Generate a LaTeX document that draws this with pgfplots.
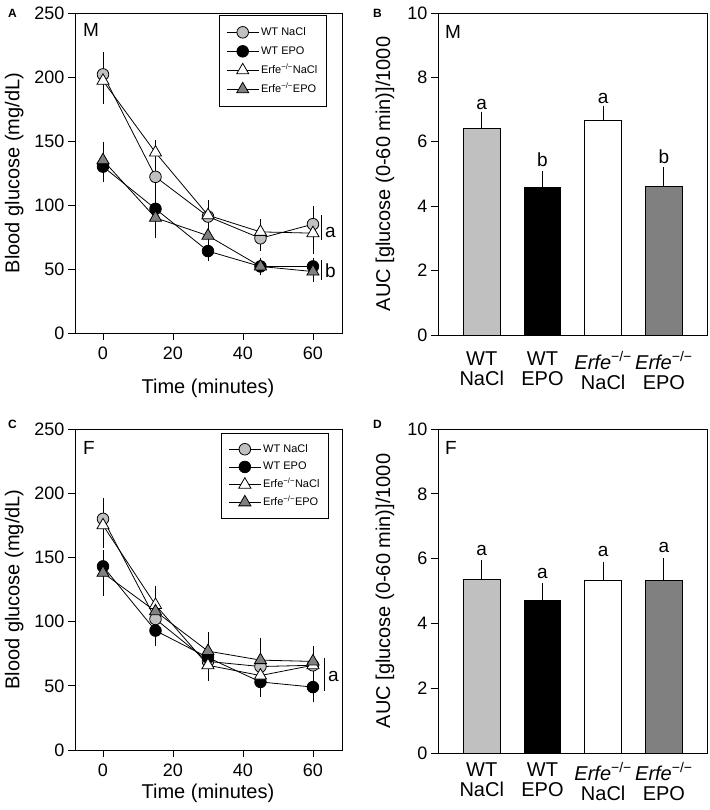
\documentclass[border=0pt]{standalone}
\usepackage{pgfplots}
\pgfplotsset{compat=1.18}
\usepackage{fontspec}
\setmainfont{Liberation Sans}
\definecolor{lg}{HTML}{C0C0C0}
\definecolor{dg}{HTML}{808080}
\pgfplotsset{
  common/.style={scale only axis, tick align=outside, major tick length=7pt,
    xtick pos=bottom, ytick pos=left,
    axis line style={line width=0.8pt}, tick style={black, line width=0.8pt},
    /pgf/number format/assume math mode=true,
    tick label style={font=\fontsize{18}{18}\selectfont},
    label style={font=\fontsize{20}{20}\selectfont},
  },
  lineax/.style={common, width=267pt, xmin=-8, xmax=68.3, ymin=0, ymax=250,
    xtick={0,20,40,60}, ytick={0,50,...,250},
    xticklabel style={yshift=-3pt},
    xlabel={Time (minutes)}, ylabel={Blood glucose (mg/dL)},
    y label style={at={(axis description cs:-0.228,0.5)}, anchor=center},
    legend cell align=left,
    legend image code/.code={\draw[##1, mark repeat=2, mark phase=2] plot coordinates {(0pt,0pt) (16pt,0pt) (32pt,0pt)};},
    legend style={font=\fontsize{11}{11}\selectfont, draw=black, line width=0.8pt,
      anchor=north west, inner xsep=7pt,
      nodes={inner sep=2pt, text height=8pt, text depth=2pt}},
  },
  barax/.style={common, width=269pt, xmin=-0.72, xmax=3.71, ymin=0, ymax=10,
    xtick={0,1,2,3}, ytick={0,2,...,10}, xtick style={draw=none},
    xticklabels={{WT\\NaCl},{WT\\EPO},{\textit{Erfe}\textsuperscript{−/−}\\NaCl},{\textit{Erfe}\textsuperscript{−/−}\\EPO}},
    xticklabel style={align=center, font=\fontsize{20}{20}\selectfont},
    ylabel={AUC [glucose (0-60 min)]/1000},
    y label style={at={(axis description cs:-0.197,0.5)}, anchor=center},
  },
  ser/.style={black, line width=0.8pt, mark size=5.8pt,
    mark options={draw=black, fill=#1, line width=0.8pt, solid}},
  tri/.style={black, line width=0.8pt, mark=triangle*, mark size=7pt,
    mark options={draw=black, fill=#1, line width=0.8pt, solid}},
  eb/.style={error bars/.cd, y dir=both, y explicit,
    error bar style={line width=0.8pt, black},
    error mark options={black, mark size=5pt, line width=0.8pt}},
  bb/.style={ybar, bar width=36.7pt, bar shift=0pt, draw=black, line width=0.8pt, fill=#1,
    error bars/.cd, y dir=plus, y explicit,
    error bar style={line width=0.8pt, black},
    error mark options={black, mark size=5pt, line width=0.8pt}},
}
\begin{document}
\begin{tikzpicture}
\useasboundingbox (0pt,0pt) rectangle (709pt,-810pt);
% ---------------- A ----------------
\begin{axis}[lineax, height=320pt, at={(75pt,-333pt)}, anchor=south west,
  x label style={at={(axis description cs:0.498,-0.172)}, anchor=center},
  legend style={at={(0.539,0.994)}, row sep=5pt, inner ysep=10pt}]
\addplot[ser=lg, mark=*, eb] table[x=t,y=g,y error=e] {
t g e
0 202 14
15 122 10
30 91 7
45 74 6
60 85 10
};
\addplot[ser=black, mark=*, eb] table[x=t,y=g,y error=e] {
t g e
0 130 8
15 97 15
30 64 4
45 52 3
60 52 3
};
\addplot[tri=white, eb] table[x=t,y=g,y error=e] {
t g e
0 197 14
15 141 6
30 92 8
45 79 6
60 78 12
};
\addplot[tri=dg, eb] table[x=t,y=g,y error=e] {
t g e
0 135 10
15 90 12
30 76 6
45 52 3
60 48 4
};
\legend{WT NaCl, WT EPO, Erfe\textsuperscript{−/−}NaCl, Erfe\textsuperscript{−/−}EPO}
\node[anchor=base west, inner sep=0, font=\fontsize{19}{19}\selectfont] at (rel axis cs:0.03,0.928) {M};
\draw[line width=0.8pt] (axis cs:62.4,92) -- (axis cs:62.4,72.7);
\draw[line width=0.8pt] (axis cs:62.4,57) -- (axis cs:62.4,41.4);
\node[anchor=base west, inner sep=0, font=\fontsize{19}{19}\selectfont] at (axis cs:63.4,75) {a};
\node[anchor=base west, inner sep=0, font=\fontsize{19}{19}\selectfont] at (axis cs:63.4,43) {b};
\end{axis}
% ---------------- B ----------------
\begin{axis}[barax, height=322pt, at={(438pt,-335pt)}, anchor=south west,
  xticklabel style={yshift=-6pt}]
\addplot[bb=lg] coordinates {(0,6.43) +- (0,0.33)};
\addplot[bb=black] coordinates {(1,4.59) +- (0,0.34)};
\addplot[bb=white] coordinates {(2,6.68) +- (0,0.27)};
\addplot[bb=dg] coordinates {(3,4.63) +- (0,0.43)};
\node[anchor=base west, inner sep=0, font=\fontsize{19}{19}\selectfont] at (rel axis cs:0.026,0.922) {M};
\node[anchor=base, inner sep=0, font=\fontsize{19}{19}\selectfont] at (axis cs:0,6.99) {a};
\node[anchor=base, inner sep=0, font=\fontsize{19}{19}\selectfont] at (axis cs:1,5.23) {b};
\node[anchor=base, inner sep=0, font=\fontsize{19}{19}\selectfont] at (axis cs:2,7.2) {a};
\node[anchor=base, inner sep=0, font=\fontsize{19}{19}\selectfont] at (axis cs:3,5.33) {b};
\end{axis}
% ---------------- C ----------------
\begin{axis}[lineax, height=321pt, at={(75pt,-750pt)}, anchor=south west,
  x label style={at={(axis description cs:0.498,-0.134)}, anchor=center},
  legend style={at={(0.547,0.988)}, row sep=3.7pt, inner ysep=9pt}]
\addplot[ser=lg, mark=*, eb] table[x=t,y=g,y error=e] {
t g e
0 180 12
15 102 8
30 69 6
45 65 8
60 66 10
};
\addplot[ser=black, mark=*, eb] table[x=t,y=g,y error=e] {
t g e
0 143 8
15 93 8
30 72 8
45 53 8
60 49 8
};
\addplot[tri=white, eb] table[x=t,y=g,y error=e] {
t g e
0 175 14
15 113 11
30 66 8
45 58 8
60 66 8
};
\addplot[tri=dg, eb] table[x=t,y=g,y error=e] {
t g e
0 138 14
15 108 10
30 77 11
45 70 13.5
60 69 8
};
\legend{WT NaCl, WT EPO, Erfe\textsuperscript{−/−}NaCl, Erfe\textsuperscript{−/−}EPO}
\node[anchor=base west, inner sep=0, font=\fontsize{19}{19}\selectfont] at (rel axis cs:0.03,0.922) {F};
\draw[line width=0.8pt] (axis cs:63.2,71.6) -- (axis cs:63.2,46);
\node[anchor=base west, inner sep=0, font=\fontsize{19}{19}\selectfont] at (axis cs:64.3,53) {a};
\end{axis}
% ---------------- D ----------------
\begin{axis}[barax, height=324pt, at={(438pt,-753pt)}, anchor=south west,
  xticklabel style={yshift=1pt}]
\addplot[bb=lg] coordinates {(0,5.36) +- (0,0.43)};
\addplot[bb=black] coordinates {(1,4.70) +- (0,0.38)};
\addplot[bb=white] coordinates {(2,5.33) +- (0,0.41)};
\addplot[bb=dg] coordinates {(3,5.33) +- (0,0.53)};
\node[anchor=base west, inner sep=0, font=\fontsize{19}{19}\selectfont] at (rel axis cs:0.026,0.92) {F};
\node[anchor=base, inner sep=0, font=\fontsize{19}{19}\selectfont] at (axis cs:0,6.11) {a};
\node[anchor=base, inner sep=0, font=\fontsize{19}{19}\selectfont] at (axis cs:1,5.40) {a};
\node[anchor=base, inner sep=0, font=\fontsize{19}{19}\selectfont] at (axis cs:2,6.06) {a};
\node[anchor=base, inner sep=0, font=\fontsize{19}{19}\selectfont] at (axis cs:3,6.18) {a};
\end{axis}
% panel letters
\node[anchor=base west, inner sep=0, font=\bfseries\fontsize{12}{12}\selectfont] at (8pt,-18pt) {A};
\node[anchor=base west, inner sep=0, font=\bfseries\fontsize{12}{12}\selectfont] at (373pt,-18pt) {B};
\node[anchor=base west, inner sep=0, font=\bfseries\fontsize{12}{12}\selectfont] at (8pt,-428pt) {C};
\node[anchor=base west, inner sep=0, font=\bfseries\fontsize{12}{12}\selectfont] at (373pt,-428pt) {D};
\end{tikzpicture}
\end{document}
